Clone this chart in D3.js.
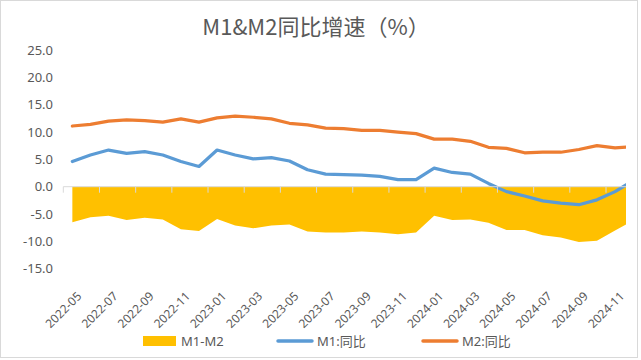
<!DOCTYPE html>
<html><head><meta charset="utf-8">
<script src="https://cdn.jsdelivr.net/npm/d3@7"></script>
<style>
html,body{margin:0;padding:0;background:#fff;}
svg{display:block;}
text{font-family:"Noto Sans","Noto Sans CJK SC",sans-serif;fill:#595959;}
</style></head>
<body>
<svg id="chart" width="641" height="360"></svg>
<script>
const months = ["2022-05","2022-06","2022-07","2022-08","2022-09","2022-10","2022-11","2022-12",
"2023-01","2023-02","2023-03","2023-04","2023-05","2023-06","2023-07","2023-08","2023-09","2023-10","2023-11","2023-12",
"2024-01","2024-02","2024-03","2024-04","2024-05","2024-06","2024-07","2024-08","2024-09","2024-10","2024-11","2024-12"];
const m1 = [4.6,5.8,6.7,6.1,6.4,5.8,4.6,3.7,
6.7,5.8,5.1,5.3,4.7,3.1,2.3,2.2,2.1,1.9,1.3,1.3,
3.4,2.6,2.3,0.6,-0.9,-1.7,-2.6,-3.0,-3.3,-2.4,-0.9,1.1];
const m2 = [11.1,11.4,12.0,12.2,12.1,11.8,12.4,11.8,
12.6,12.9,12.7,12.4,11.6,11.3,10.7,10.6,10.3,10.3,10.0,9.7,
8.7,8.7,8.3,7.2,7.0,6.2,6.3,6.3,6.8,7.5,7.1,7.3];
const diff = [-6.5,-5.6,-5.3,-6.1,-5.7,-6.0,-7.8,-8.1,
-5.9,-7.1,-7.6,-7.1,-6.9,-8.2,-8.4,-8.4,-8.2,-8.4,-8.7,-8.4,
-5.3,-6.1,-6.0,-6.6,-7.9,-7.9,-8.9,-9.3,-10.1,-9.9,-8.0,-6.2];
const yTicks = [25,20,15,10,5,0,-5,-10,-15];
const seriesNames = ["M1-M2","M1:同比","M2:同比"];
const titleText = "M1&M2同比增速（%）";

const colors = {diff:"#FFC000", m1:"#5B9BD5", m2:"#ED7D31", axis:"#D9D9D9"};
const svg = d3.select("#chart");

// border
svg.append("rect").attr("x",0.5).attr("y",0.5).attr("width",637).attr("height",357)
  .attr("fill","#fff").attr("stroke","#D9D9D9");

svg.append("text").attr("x",316).attr("y",35).attr("text-anchor","middle")
  .style("font-size","22px").style("font-family",'"Noto Sans CJK SC",sans-serif').text(titleText);

const x = d3.scaleLinear().domain([0, months.length-1]).range([72.35, 72.35 + 18.09*(months.length-1)]);
const y = d3.scaleLinear().domain([-15,25]).range([268.7,50]);
const plotL = x(-0.5), plotR = 626;

svg.append("defs").append("clipPath").attr("id","clip")
  .append("rect").attr("x",plotL).attr("y",30).attr("width",plotR-plotL).attr("height",260);

const g = svg.append("g").attr("clip-path","url(#clip)");
const idx = d3.range(months.length);

g.append("path").datum(idx)
  .attr("fill",colors.diff)
  .attr("d", d3.area().x(i=>x(i)).y0(y(0)).y1(i=>y(diff[i])));

// x axis
const axisG = svg.append("g");
axisG.append("line").attr("x1",plotL).attr("x2",plotR).attr("y1",y(0)).attr("y2",y(0))
  .attr("stroke",colors.axis).attr("stroke-width",1);
const tickIdx = d3.range(0, months.length, 2);
axisG.selectAll("line.tick").data(tickIdx).enter().append("line").attr("class","tick")
  .attr("x1",i=>x(i-0.5)).attr("x2",i=>x(i-0.5)).attr("y1",y(0)).attr("y2",y(0)+6)
  .attr("stroke",colors.axis);

const line = (arr)=>d3.line().x(i=>x(i)).y(i=>y(arr[i]));
g.append("path").datum(idx).attr("fill","none").attr("stroke",colors.m1).attr("stroke-width",3.25)
  .attr("stroke-linejoin","round").attr("stroke-linecap","round").attr("d",line(m1));
g.append("path").datum(idx).attr("fill","none").attr("stroke",colors.m2).attr("stroke-width",3.25)
  .attr("stroke-linejoin","round").attr("stroke-linecap","round").attr("d",line(m2));

// y labels
svg.selectAll("text.ylab").data(yTicks).enter().append("text").attr("class","ylab")
  .attr("x",53).attr("y",d=>y(d)).attr("dy","0.35em").attr("text-anchor","end")
  .style("font-size","13px").text(d=>d.toFixed(1));

// x labels
svg.selectAll("text.xlab").data(tickIdx).enter().append("text").attr("class","xlab")
  .attr("text-anchor","end").attr("dy","0.35em")
  .attr("transform",i=>`translate(${x(i)+7},294) rotate(-45)`)
  .style("font-size","12px").text(i=>months[i]);

// legend
const lg = svg.append("g").attr("transform","translate(0,341)");
lg.append("rect").attr("x",143).attr("y",-5).attr("width",33).attr("height",10).attr("fill",colors.diff);
lg.append("text").attr("x",181).attr("y",0).attr("dy","0.35em").style("font-size","13px").text(seriesNames[0]);
lg.append("line").attr("x1",278).attr("x2",312).attr("y1",0).attr("y2",0).attr("stroke",colors.m1).attr("stroke-width",3.5).attr("stroke-linecap","round");
lg.append("text").attr("x",317).attr("y",0).attr("dy","0.35em").style("font-size","13px").text(seriesNames[1]);
lg.append("line").attr("x1",423).attr("x2",457).attr("y1",0).attr("y2",0).attr("stroke",colors.m2).attr("stroke-width",3.5).attr("stroke-linecap","round");
lg.append("text").attr("x",462).attr("y",0).attr("dy","0.35em").style("font-size","13px").text(seriesNames[2]);
</script>
</body></html>
